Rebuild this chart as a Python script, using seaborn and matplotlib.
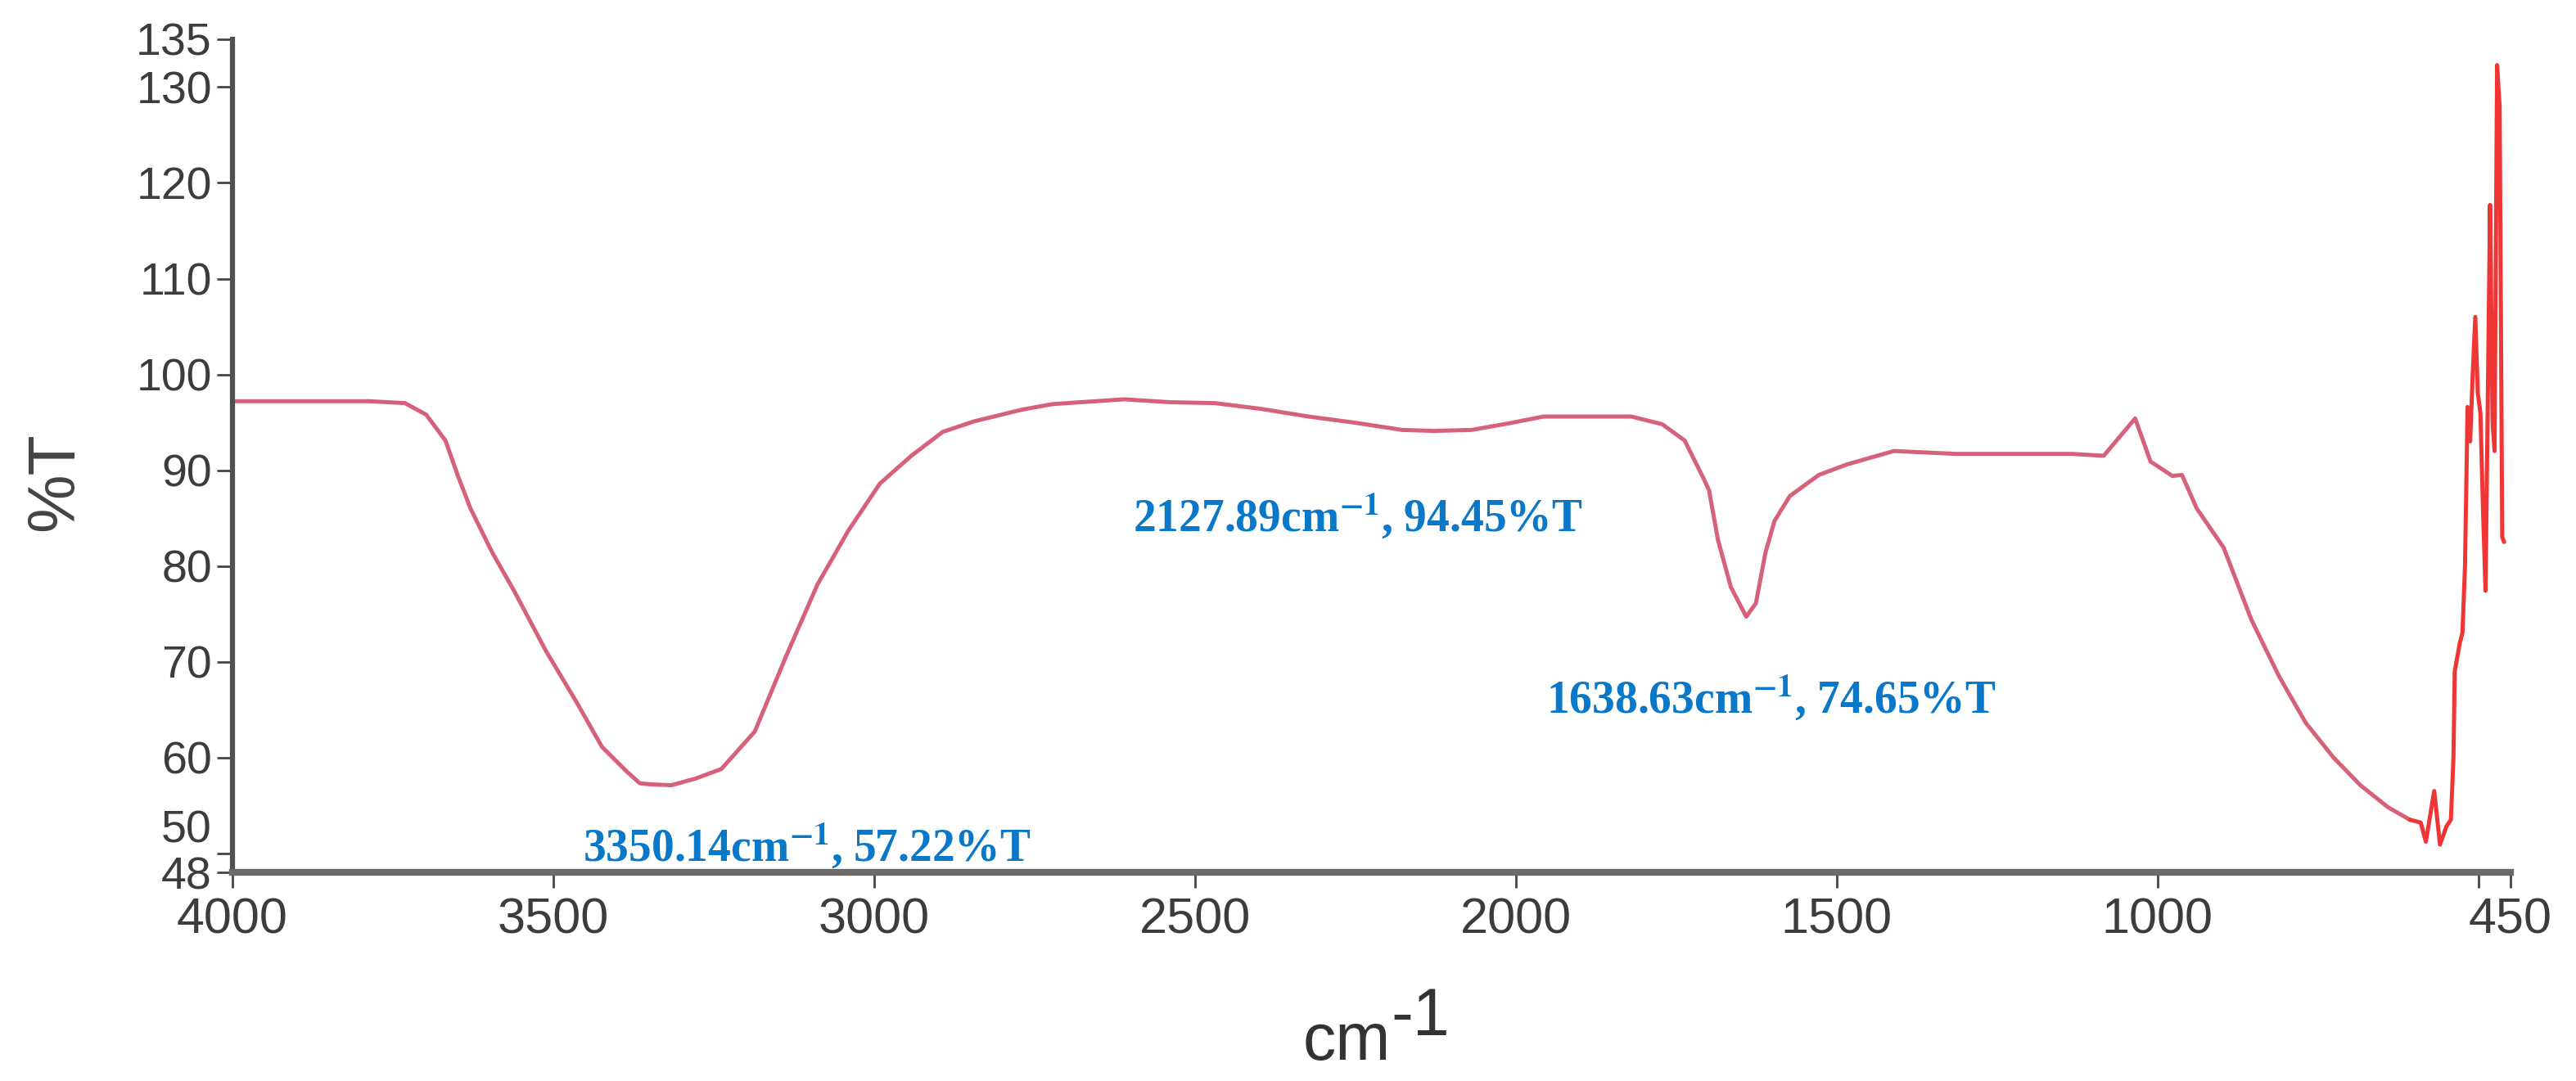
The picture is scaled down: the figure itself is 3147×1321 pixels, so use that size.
import matplotlib
matplotlib.use('Agg')
import matplotlib.pyplot as plt
import matplotlib.transforms as mtransforms
import pandas as pd
import seaborn as sns

# FTIR spectrum (wavenumber in cm-1, %T)
wavenumber = [4000, 3900, 3800, 3786, 3731, 3698, 3668, 3649, 3629, 3595,
              3561, 3512, 3463, 3424, 3385, 3365, 3350, 3316, 3278, 3238,
              3186, 3137, 3088, 3040, 2991, 2942, 2893, 2844, 2771, 2722,
              2610, 2540, 2469, 2397, 2323, 2250, 2177, 2128, 2069, 2006,
              1957, 1820, 1772, 1737, 1708, 1699, 1685, 1665, 1641, 1626,
              1611, 1597, 1573, 1528, 1484, 1411, 1314, 1133, 1084, 1035,
              1011, 977, 962, 939, 897, 854, 811, 769, 726, 684,
              641, 607]
transmittance = [97.2, 97.2, 97.2, 97.2, 97.0, 95.8, 93.1, 89.5, 86.0, 81.4,
                 77.4, 71.2, 65.7, 61.1, 58.5, 57.3, 57.2, 57.1, 57.8, 58.8,
                 62.7, 70.6, 78.1, 83.7, 88.6, 91.5, 94.0, 95.1, 96.3, 96.9,
                 97.4, 97.1, 97.0, 96.4, 95.6, 94.95, 94.2, 94.1, 94.2, 94.95,
                 95.6, 95.6, 94.8, 93.1, 89.2, 87.9, 82.7, 77.8, 74.7, 76.1,
                 81.4, 84.7, 87.3, 89.5, 90.6, 92.0, 91.7, 91.7, 91.5, 95.4,
                 90.9, 89.4, 89.5, 86.0, 81.9, 74.4, 68.5, 63.6, 60.0, 57.1,
                 54.8, 53.5]

# noisy low-wavenumber end (drawn in brighter red)
spike_wavenumber = [607, 590, 582, 569, 560, 550, 543, 539, 537, 533,
                    529, 525, 521, 517, 513, 509, 505, 501, 497, 493,
                    489, 485, 482, 478, 475, 471, 467, 463, 460]
spike_transmittance = [53.5, 53.2, 51.2, 56.5, 50.9, 52.8, 53.5, 60.0, 69.0, 70.5,
                       72.0, 73.0, 80.0, 96.6, 93.0, 100.0, 106.0, 98.0, 96.0, 86.0,
                       77.4, 100.0, 117.7, 95.0, 92.0, 132.3, 128.0, 83.0, 82.5]

peak_labels = ['3350.14cm$^{\\mathbf{-1}}$, 57.22%T',
               '2127.89cm$^{\\mathbf{-1}}$, 94.45%T',
               '1638.63cm$^{\\mathbf{-1}}$, 74.65%T']
peak_label_x = [3454, 2597, 1953]
peak_label_y = [49.2, 83.7, 64.7]

x_ticks = [4000, 3500, 3000, 2500, 2000, 1500, 1000, 500, 450]
x_tick_labels = ['4000', '3500', '3000', '2500', '2000', '1500', '1000', '', '450']
y_ticks = [48, 50, 60, 70, 80, 90, 100, 110, 120, 130, 135]

main_df = pd.DataFrame({'wavenumber': wavenumber, 'T': transmittance})
spike_df = pd.DataFrame({'wavenumber': spike_wavenumber, 'T': spike_transmittance})

sns.set_theme(style='white')
plt.rcParams['font.family'] = ['Liberation Sans', 'DejaVu Sans']
plt.rcParams['mathtext.fontset'] = 'stix'

fig, ax = plt.subplots(figsize=(31.47, 13.21), dpi=100)
fig.subplots_adjust(left=0.0902, right=0.9746, bottom=0.193, top=0.9637)

sns.lineplot(data=main_df, x='wavenumber', y='T', sort=False, estimator=None,
             color='#d6627a', lw=3.6, ax=ax)
sns.lineplot(data=spike_df, x='wavenumber', y='T', sort=False, estimator=None,
             color='#f03535', lw=3.6, ax=ax)

ax.set_xlim(4000, 450)
ax.set_ylim(48, 135)
ax.set_xticks(x_ticks)
ax.set_xticklabels(x_tick_labels)
ax.set_yticks(y_ticks)
ax.set_yticklabels([str(v) for v in y_ticks])

ax.tick_params(axis='x', direction='out', length=14, width=2, color='#444444',
               pad=8, labelsize=44, labelcolor='#3c3c3c', bottom=True)
ax.tick_params(axis='y', direction='out', length=14, width=2, color='#444444',
               pad=4, labelsize=40, labelcolor='#3c3c3c', left=True)

# nudge the "50" label up so it does not sit on top of "48"
for lbl in ax.get_yticklabels():
    if lbl.get_text() == '50':
        lbl.set_transform(lbl.get_transform() +
                          mtransforms.ScaledTranslation(0, 0.33, fig.dpi_scale_trans))

for side in ['top', 'right']:
    ax.spines[side].set_visible(False)
ax.spines['bottom'].set_linewidth(6)
ax.spines['bottom'].set_color('#6a6a6a')
ax.spines['left'].set_linewidth(4.5)
ax.spines['left'].set_color('#505050')

ax.set_xlabel('')
ax.set_ylabel('%T', fontsize=58, color='#444444')
ax.yaxis.set_label_coords(-0.064, 0.4686)

fig.text(0.5059, 0.0197, 'cm', fontsize=58, color='#333333', ha='left', va='baseline')
fig.text(0.5400, 0.0424, '-1', fontsize=58, color='#333333', ha='left', va='baseline')

for lab, lx, ly in zip(peak_labels, peak_label_x, peak_label_y):
    ax.text(lx, ly, lab, fontsize=40, fontweight='bold', color='#0a78c8',
            family=['Liberation Serif', 'DejaVu Serif'], ha='left', va='baseline',
            clip_on=False)

fig.savefig('out.png', dpi=100)
